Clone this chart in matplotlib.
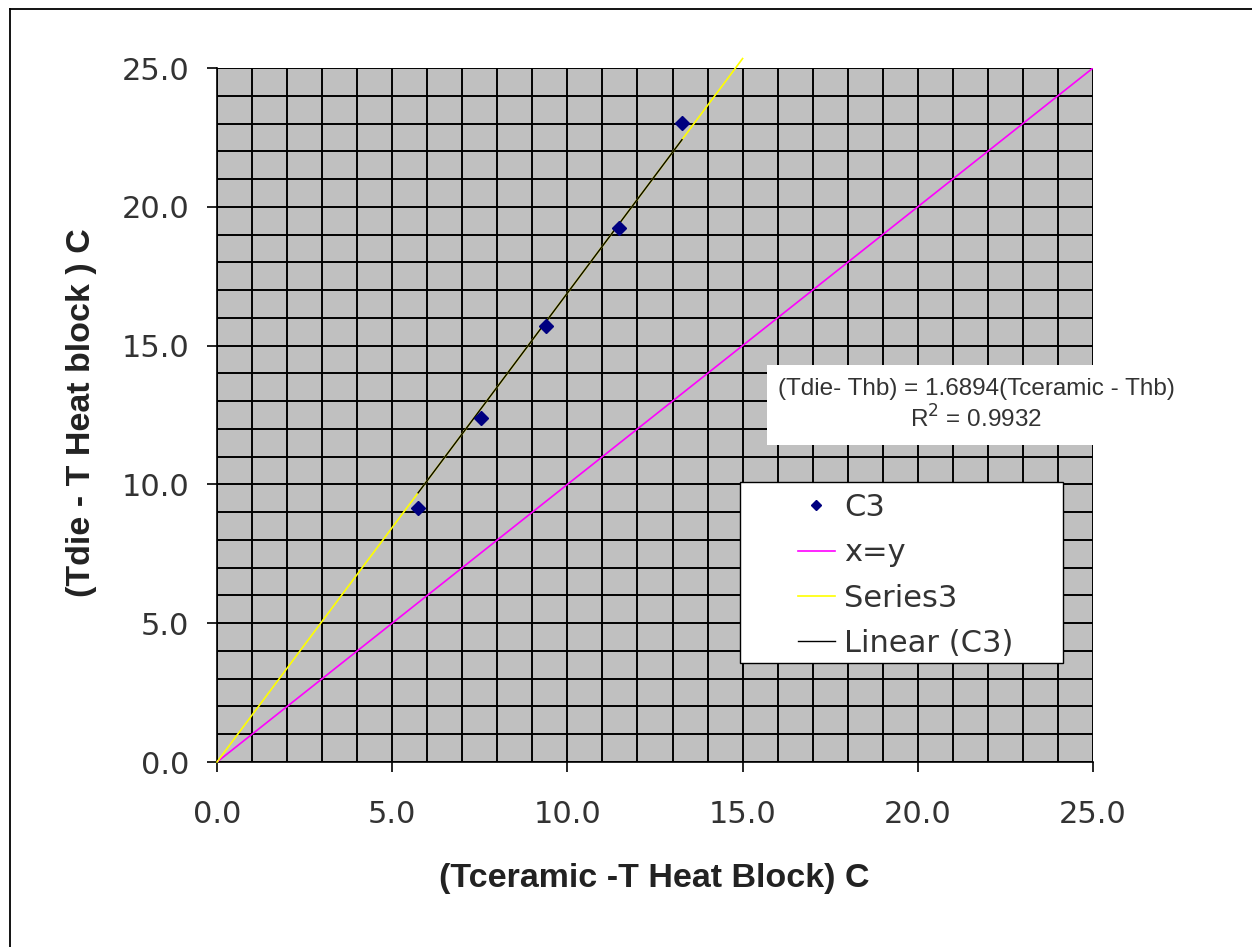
import matplotlib
matplotlib.use("Agg")
import matplotlib.pyplot as plt
from matplotlib.lines import Line2D
from matplotlib.patches import Rectangle
import numpy as np

plt.rcParams['font.family'] = ['DejaVu Sans']

# Data
c3_x = [5.74, 7.53, 9.39, 11.47, 13.27]
c3_y = [9.15, 12.39, 15.70, 19.24, 23.02]
xy_x = [0.0, 25.0]
xy_y = [0.0, 25.0]
s3_x = [0.0, 15.0]
s3_y = [0.0, 25.34]
slope = 1.6894
r2 = 0.9932
ticks = [0.0, 5.0, 10.0, 15.0, 20.0, 25.0]
tick_labels = ["0.0", "5.0", "10.0", "15.0", "20.0", "25.0"]

W, H = 1252, 947
fig = plt.figure(figsize=(W / 100, H / 100), dpi=100)

# figure border (only top/left visible)
fig.add_artist(Line2D([10 / W, 10 / W], [0, 1 - 9 / H], transform=fig.transFigure, color='black', lw=1.3))
fig.add_artist(Line2D([10 / W, 1], [1 - 9 / H, 1 - 9 / H], transform=fig.transFigure, color='black', lw=1.3))

X0, X1, Y0, Y1 = 217, 1093, 762, 68
ax = fig.add_axes([X0 / W, (H - Y0) / H, (X1 - X0) / W, (Y0 - Y1) / H])
ax.set_facecolor('#C0C0C0')
ax.set_xlim(0, 25)
ax.set_ylim(0, 25)

def ax_frac(px, py):
    return ((px - X0) / (X1 - X0), (Y0 - py) / (Y0 - Y1))

ax.set_xticks(ticks)
ax.set_xticklabels(tick_labels)
ax.set_yticks(ticks)
ax.set_yticklabels(tick_labels)
ax.set_xticks(np.arange(0, 26, 1), minor=True)
ax.set_yticks(np.arange(0, 26, 1), minor=True)
ax.grid(True, which='both', color='black', lw=1.4)
ax.set_axisbelow(True)
ax.tick_params(axis='both', which='major', direction='out', length=7, width=1.2,
               labelsize=22, colors='black')
ax.tick_params(axis='x', which='major', pad=20)
ax.tick_params(axis='y', which='major', pad=13)
ax.tick_params(axis='both', which='minor', length=0)
for lab in ax.get_xticklabels() + ax.get_yticklabels():
    lab.set_color('#333333')
for s in ['top', 'right']:
    ax.spines[s].set_visible(False)
for s in ['left', 'bottom']:
    ax.spines[s].set_color('black')
    ax.spines[s].set_linewidth(1.2)

ax.plot(xy_x, xy_y, color='#FF00FF', lw=1.2, label='x=y', zorder=3)
ax.plot(s3_x, s3_y, color='#FFFF00', lw=1.2, label='Series3', zorder=3, clip_on=False)
fx = [min(c3_x), max(c3_x)]
fy = [slope * v for v in fx]
ax.plot(fx, fy, color='black', lw=1.0, label='Linear (C3)', zorder=4)
ax.plot(c3_x, c3_y, linestyle='none', marker='D', markersize=7, color='#000080',
        label='C3', zorder=5)

# legend box
lx0, ly0 = ax_frac(740, 663)
lx1, ly1 = ax_frac(1063, 482)
ax.add_patch(Rectangle((lx0, ly0), lx1 - lx0, ly1 - ly0, transform=ax.transAxes,
                       facecolor='white', edgecolor='black', lw=1.0, zorder=6))
handles, labels = ax.get_legend_handles_labels()
order = [3, 0, 1, 2]
lax, lay = ax_frac(792, 487)
leg = ax.legend([handles[i] for i in order], [labels[i] for i in order],
                loc='upper left', bbox_to_anchor=(lax, lay),
                frameon=False, fontsize=22, handlelength=1.2, handletextpad=0.3,
                borderpad=0.2, labelspacing=0.53, borderaxespad=0, markerscale=0.8)
leg.set_zorder(7)
for t in leg.get_texts():
    t.set_color('#333333')

tx, ty = ax_frac(976, 405)
ax.text(tx, ty,
        "(Tdie- Thb) = 1.6894(Tceramic - Thb)\nR$^2$ = 0.9932",
        transform=ax.transAxes, family='Liberation Sans',
        ha='center', va='center', fontsize=17.5, color='#333333', linespacing=1.25,
        zorder=8, clip_on=False)
bx0, by0 = ax_frac(767, 445)
bx1, by1 = ax_frac(1095, 365)
ax.add_patch(Rectangle((bx0, by0), bx1 - bx0, by1 - by0, transform=ax.transAxes,
                       facecolor='white', edgecolor='none', zorder=6, clip_on=False))

ax.set_xlabel("(Tceramic -T Heat Block) C", fontsize=24.5, fontweight='bold',
              family='Liberation Sans', color='#222222')
ax.set_ylabel("(Tdie - T Heat block ) C", fontsize=24.5, fontweight='bold',
              family='Liberation Sans', color='#222222')
ax.xaxis.label.set_va('center')
ax.yaxis.label.set_va('center')
ax.xaxis.set_label_coords(*ax_frac(654, 878))
ax.yaxis.set_label_coords(*ax_frac(82, 413))

fig.savefig("out.png", dpi=100)
